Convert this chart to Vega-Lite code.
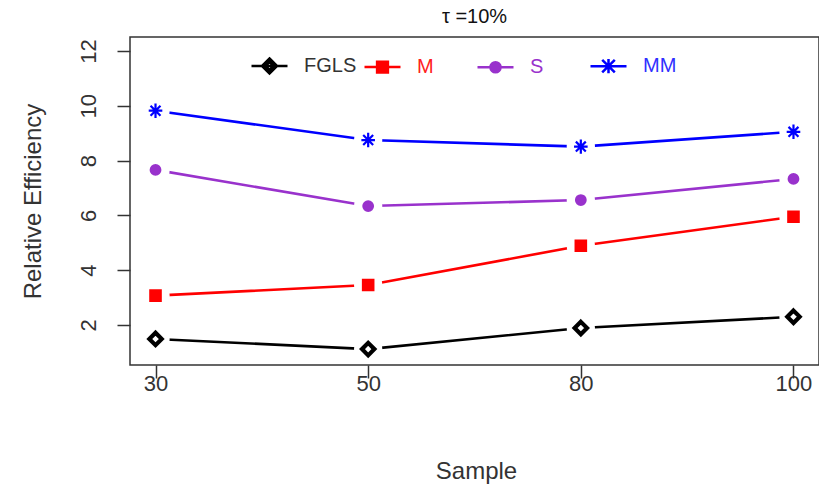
{
  "$schema": "https://vega.github.io/schema/vega-lite/v6.json",
  "width": 689,
  "height": 328,
  "autosize": {"type": "none"},
  "padding": {"left": 130, "top": 37, "right": 0, "bottom": 127},
  "background": "white",
  "title": {"text": "τ =10%", "fontSize": 20, "fontWeight": "normal", "font": "Liberation Sans", "color": "#111", "frame": "group", "anchor": "middle", "offset": 10},
  "config": {"view": {"stroke": "#333", "strokeWidth": 1.5}, "font": "Liberation Sans"},
  "data": {"values": [
    {"Sample": 30, "Method": "FGLS", "RE": 1.49},
    {"Sample": 50, "Method": "FGLS", "RE": 1.12},
    {"Sample": 80, "Method": "FGLS", "RE": 1.89},
    {"Sample": 100, "Method": "FGLS", "RE": 2.30},
    {"Sample": 30, "Method": "M", "RE": 3.07},
    {"Sample": 50, "Method": "M", "RE": 3.46},
    {"Sample": 80, "Method": "M", "RE": 4.89},
    {"Sample": 100, "Method": "M", "RE": 5.95},
    {"Sample": 30, "Method": "S", "RE": 7.66},
    {"Sample": 50, "Method": "S", "RE": 6.34},
    {"Sample": 80, "Method": "S", "RE": 6.56},
    {"Sample": 100, "Method": "S", "RE": 7.33},
    {"Sample": 30, "Method": "MM", "RE": 9.82},
    {"Sample": 50, "Method": "MM", "RE": 8.75},
    {"Sample": 80, "Method": "MM", "RE": 8.51},
    {"Sample": 100, "Method": "MM", "RE": 9.05}
  ]},
  "encoding": {
    "x": {"field": "Sample", "type": "ordinal", "scale": {"type": "point", "padding": 0.12},
      "axis": {"domain": false, "grid": false, "tickSize": 13, "tickWidth": 1.5, "tickColor": "#333", "labelAngle": 0, "labelFontSize": 22, "labelColor": "#333", "labelPadding": -5, "labelBaseline": "top", "title": "Sample", "titleFontSize": 24, "titleFontWeight": "normal", "titleColor": "#333", "titleX": 346, "titleY": 106, "titleBaseline": "middle", "titleAlign": "center"}},
    "y": {"field": "RE", "type": "quantitative", "scale": {"domain": [0.54, 12.51], "nice": false, "zero": false},
      "axis": {"values": [2, 4, 6, 8, 10, 12], "domain": false, "grid": false, "tickSize": 13, "tickWidth": 1.5, "tickColor": "#333", "labelAngle": -90, "labelAlign": "center", "labelBaseline": "bottom", "labelPadding": 17, "labelFontSize": 22, "labelColor": "#333", "title": "Relative Efficiency", "titleFontSize": 24, "titleFontWeight": "normal", "titleColor": "#333", "titleAngle": -90, "titleX": -97, "titleY": 164, "titleAlign": "center", "titleBaseline": "middle"}}
  },
  "layer": [
    {
      "mark": {"type": "line", "strokeWidth": 2.6},
      "encoding": {
        "stroke": {"field": "Method", "type": "nominal", "scale": {"domain": ["FGLS", "M", "S", "MM"], "range": ["#000000", "#ff0000", "#9932cc", "#0000ff"]}, "legend": null}
      }
    },
    {
      "mark": {"type": "circle", "color": "white", "size": 800, "opacity": 1, "strokeWidth": 0}
    },
    {
      "mark": {"type": "point", "filled": true, "size": 256, "opacity": 1, "strokeWidth": 2.2},
      "encoding": {
        "fill": {"field": "Method", "type": "nominal", "scale": {"domain": ["FGLS", "M", "S", "MM"], "range": ["#000000", "#ff0000", "#9932cc", "#0000ff"]}, "legend": null},
        "stroke": {"field": "Method", "type": "nominal", "scale": {"domain": ["FGLS", "M", "S", "MM"], "range": ["#000000", "#ff0000", "#9932cc", "#0000ff"]}, "legend": null},
        "shape": {"field": "Method", "type": "nominal", "scale": {"domain": ["FGLS", "M", "S", "MM"], "range": [
          "M0,-0.95L0.95,0L0,0.95L-0.95,0ZM0,-0.6L-0.6,0L0,0.6L0.6,0Z",
          "M-0.65,-0.65H0.65V0.65H-0.65Z",
          "M-0.6,0A0.6,0.6,0,1,1,0.6,0A0.6,0.6,0,1,1,-0.6,0Z",
          "M0,-0.9V0.9M-0.85,0H0.85M-0.62,-0.62L0.62,0.62M-0.62,0.62L0.62,-0.62"
        ]}, "legend": null}
      }
    },
    {
      "transform": [{"filter": "false"}],
      "mark": {"type": "point", "filled": true, "opacity": 1},
      "encoding": {
        "fill": {"field": "Method", "type": "nominal", "scale": {"domain": ["FGLS", "M", "S", "MM"], "range": ["#000000", "#ff0000", "#9932cc", "#0000ff"]},
          "legend": {"title": null, "orient": "none", "legendX": 120, "legendY": 9, "direction": "horizontal", "columns": 4, "gridAlign": "all", "symbolSize": 1296, "symbolStrokeWidth": 2.5, "labelFontSize": 20, "labelFont": "Liberation Sans", "labelOffset": 15, "columnPadding": 2, "padding": 0, "labelColor": {"expr": "datum.value === 'M' ? '#ff2020' : datum.value === 'S' ? '#9932cc' : datum.value === 'MM' ? '#3030ff' : '#333333'"}}},
        "stroke": {"field": "Method", "type": "nominal", "scale": {"domain": ["FGLS", "M", "S", "MM"], "range": ["#000000", "#ff0000", "#9932cc", "#0000ff"]},
          "legend": {"title": null, "orient": "none", "legendX": 120, "legendY": 9, "direction": "horizontal", "columns": 4, "gridAlign": "all", "symbolSize": 1296, "symbolStrokeWidth": 2.5, "labelFontSize": 20, "labelFont": "Liberation Sans", "labelOffset": 15, "columnPadding": 2, "padding": 0, "labelColor": {"expr": "datum.value === 'M' ? '#ff2020' : datum.value === 'S' ? '#9932cc' : datum.value === 'MM' ? '#3030ff' : '#333333'"}}},
        "shape": {"field": "Method", "type": "nominal", "scale": {"domain": ["FGLS", "M", "S", "MM"], "range": [
          "M-1,0H1M0,-0.42L0.42,0L0,0.42L-0.42,0ZM0,-0.22L-0.22,0L0,0.22L0.22,0Z",
          "M-1,0H1M-0.3,-0.3H0.3V0.3H-0.3Z",
          "M-1,0H1M-0.28,0A0.28,0.28,0,1,1,0.28,0A0.28,0.28,0,1,1,-0.28,0Z",
          "M-1,0H1M0,-0.4V0.4M-0.35,-0.35L0.35,0.35M-0.35,0.35L0.35,-0.35"
        ]},
          "legend": {"title": null, "orient": "none", "legendX": 120, "legendY": 9, "direction": "horizontal", "columns": 4, "gridAlign": "all", "symbolSize": 1296, "symbolStrokeWidth": 2.5, "labelFontSize": 20, "labelFont": "Liberation Sans", "labelOffset": 15, "columnPadding": 2, "padding": 0, "labelColor": {"expr": "datum.value === 'M' ? '#ff2020' : datum.value === 'S' ? '#9932cc' : datum.value === 'MM' ? '#3030ff' : '#333333'"}}}
      }
    }
  ],
  "resolve": {"scale": {"shape": "independent", "fill": "independent", "stroke": "independent"}}
}
